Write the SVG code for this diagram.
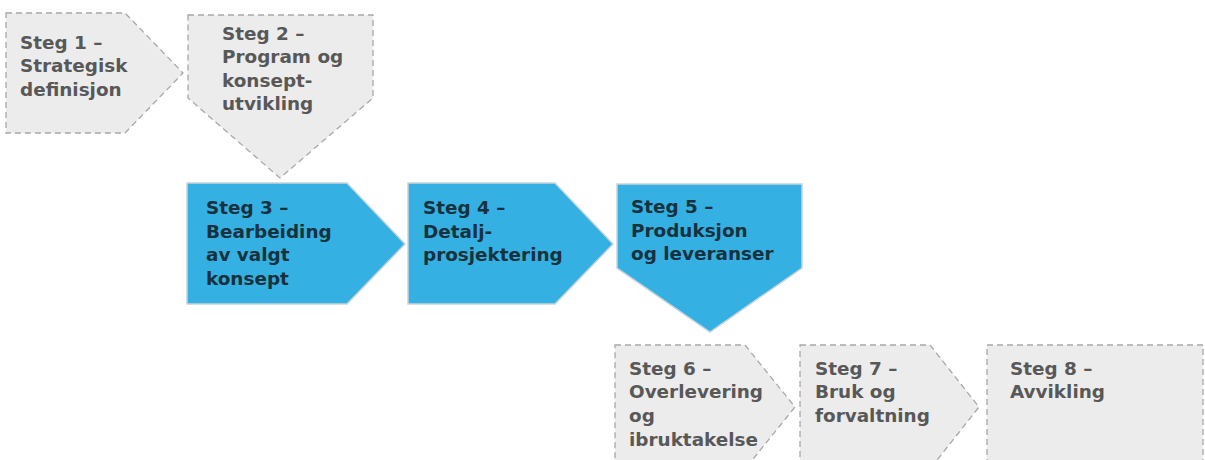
<svg xmlns="http://www.w3.org/2000/svg" width="1205" height="460" viewBox="0 0 1205 460">
<style>
.g{fill:#ececec;stroke:#a8a8a8;stroke-width:1.3;stroke-dasharray:6 4}
.b{fill:#35b0e2;stroke:#c9d4da;stroke-width:1.5}
.tg{font-family:"DejaVu Sans",Verdana,sans-serif;font-weight:bold;font-size:18.4px;fill:#585858}
.tb{font-family:"DejaVu Sans",Verdana,sans-serif;font-weight:bold;font-size:18.4px;fill:#17313d}
</style>
<rect width="1205" height="460" fill="#ffffff"/>
<g id="steg1">
<path class="g" d="M6,13 H125 L183,73 L125,133 H6 Z"/>
<text class="tg" x="20" y="49">Steg 1 –</text>
<text class="tg" x="20" y="72">Strategisk</text>
<text class="tg" x="20" y="96">definisjon</text>
</g>
<g id="steg2">
<path class="g" d="M188,15 H373 V98 L280,178 L188,98 Z"/>
<text class="tg" x="222" y="40">Steg 2 –</text>
<text class="tg" x="222" y="63">Program og</text>
<text class="tg" x="222" y="87">konsept-</text>
<text class="tg" x="222" y="110">utvikling</text>
</g>
<g id="steg3">
<path class="b" d="M187,183 H347 L405,244 L347,304 H187 Z"/>
<text class="tb" x="206" y="214">Steg 3 –</text>
<text class="tb" x="206" y="238">Bearbeiding</text>
<text class="tb" x="206" y="261">av valgt</text>
<text class="tb" x="206" y="285">konsept</text>
</g>
<g id="steg4">
<path class="b" d="M408,183 H555 L613,244 L555,304 H408 Z"/>
<text class="tb" x="423" y="214">Steg 4 –</text>
<text class="tb" x="423" y="238">Detalj-</text>
<text class="tb" x="423" y="261">prosjektering</text>
</g>
<g id="steg5">
<path class="b" d="M617,184 H802 V268 L710,332 L617,268 Z"/>
<text class="tb" x="631" y="213">Steg 5 –</text>
<text class="tb" x="631" y="237">Produksjon</text>
<text class="tb" x="631" y="260">og leveranser</text>
</g>
<g id="steg6">
<path class="g" d="M615,345 H745 L795,407 L745,469 H615 Z"/>
<text class="tg" x="629" y="375">Steg 6 –</text>
<text class="tg" x="629" y="398">Overlevering</text>
<text class="tg" x="629" y="422">og</text>
<text class="tg" x="629" y="446">ibruktakelse</text>
</g>
<g id="steg7">
<path class="g" d="M800,345 H930 L979,407 L930,469 H800 Z"/>
<text class="tg" x="815" y="375">Steg 7 –</text>
<text class="tg" x="815" y="398">Bruk og</text>
<text class="tg" x="815" y="422">forvaltning</text>
</g>
<g id="steg8">
<path class="g" d="M987,345 H1203 V469 H987 Z"/>
<text class="tg" x="1010" y="375">Steg 8 –</text>
<text class="tg" x="1010" y="398">Avvikling</text>
</g>
<g id="connectors"></g>
</svg>
